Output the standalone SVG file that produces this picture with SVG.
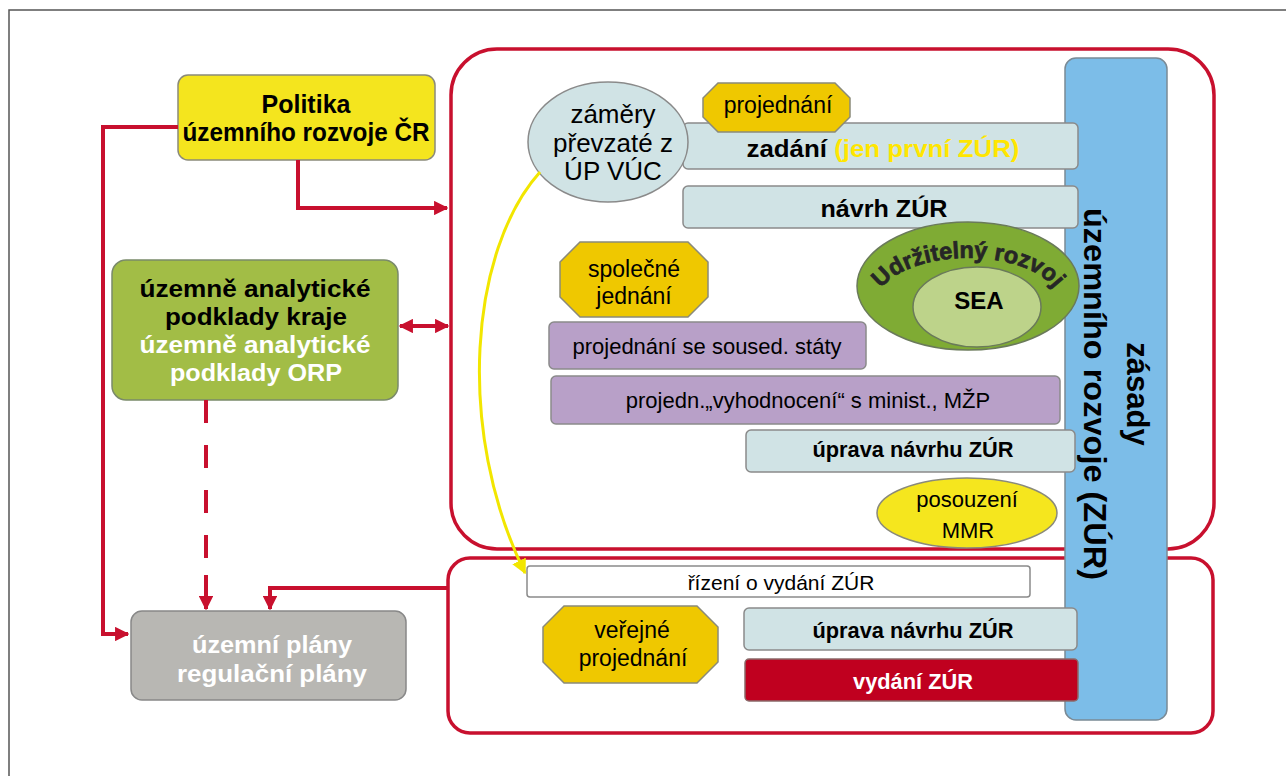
<svg xmlns="http://www.w3.org/2000/svg" width="1286" height="776" viewBox="0 0 1286 776">
<defs>
<style>
.t{font-family:"Liberation Sans",Arial,sans-serif;}
.b{font-weight:bold;}
.frame{fill:none;stroke:#c8102e;stroke-width:3.5;}
.bar{fill:#d0e3e5;stroke:#8a8a8a;stroke-width:1.5;}
.oct{fill:#efc800;stroke:#8a8a7a;stroke-width:1.5;}
.pur{fill:#b8a0c8;stroke:#8a8a8a;stroke-width:1.5;}
.con{fill:none;stroke:#c8102e;stroke-width:4;}
</style>
<marker id="ar2" viewBox="0 0 10 10" refX="9" refY="5" markerWidth="3.6" markerHeight="3.6" orient="auto-start-reverse" markerUnits="strokeWidth">
<path d="M0,0 L10,5 L0,10 z" fill="#c8102e"/>
</marker>
<marker id="ay" viewBox="0 0 10 10" refX="9" refY="5" markerWidth="5" markerHeight="5" orient="auto" markerUnits="strokeWidth">
<path d="M0,0 L10,5 L0,10 z" fill="#f2e600"/>
</marker>
<path id="arc" d="M 876,304 A 92,46 0 0 1 1060,304"/>
</defs>

<rect width="1286" height="776" fill="#ffffff"/>
<path d="M9,776 L9,10 L1286,10" fill="none" stroke="#555" stroke-width="1.5"/>

<!-- containers -->
<g id="stage-top">
<rect class="frame" x="451" y="49" width="763" height="500" rx="46"/>
</g>
<g id="stage-bottom">
<rect class="frame" x="448" y="558" width="765" height="175" rx="22"/>
</g>

<!-- blue bar ZÚR -->
<g id="zur">
<rect x="1065" y="58" width="102" height="662" rx="11" fill="#7cbde8" stroke="#7a8a95" stroke-width="1.5"/>
<text class="t b" transform="translate(1127,394) rotate(90)" text-anchor="middle" font-size="31" fill="#000">zásady</text>
<text class="t b" transform="translate(1084,394) rotate(90)" text-anchor="middle" font-size="31" fill="#000" textLength="372" lengthAdjust="spacingAndGlyphs">územního rozvoje (ZÚR)</text>
</g>

<!-- left nodes -->
<g id="politika">
<rect x="178" y="75" width="257" height="85" rx="10" fill="#f4e51e" stroke="#8a8a7a" stroke-width="1.5"/>
<text class="t b" x="306" y="113" text-anchor="middle" font-size="25">Politika</text>
<text class="t b" x="306" y="141" text-anchor="middle" font-size="25" textLength="247" lengthAdjust="spacingAndGlyphs">územního rozvoje ČR</text>
</g>

<g id="uap">
<rect x="112" y="260" width="286" height="140" rx="14" fill="#a2bd46" stroke="#7a8a6a" stroke-width="1.5"/>
<text class="t b" x="255" y="297" text-anchor="middle" font-size="24" textLength="231" lengthAdjust="spacingAndGlyphs">územně analytické</text>
<text class="t b" x="256" y="325" text-anchor="middle" font-size="24" textLength="182" lengthAdjust="spacingAndGlyphs">podklady kraje</text>
<text class="t b" x="255" y="353" text-anchor="middle" font-size="24" fill="#fff" textLength="231" lengthAdjust="spacingAndGlyphs">územně analytické</text>
<text class="t b" x="256" y="381" text-anchor="middle" font-size="24" fill="#fff" textLength="172" lengthAdjust="spacingAndGlyphs">podklady ORP</text>
</g>

<g id="up">
<rect x="131" y="611" width="275" height="89" rx="11" fill="#b8b7b3" stroke="#888" stroke-width="1.5"/>
<text class="t b" x="272" y="653" text-anchor="middle" font-size="24" fill="#fff" textLength="160" lengthAdjust="spacingAndGlyphs">územní plány</text>
<text class="t b" x="272" y="682" text-anchor="middle" font-size="24" fill="#fff" textLength="190" lengthAdjust="spacingAndGlyphs">regulační plány</text>
</g>

<!-- top stage nodes -->
<g id="zadani">
<rect class="bar" x="683" y="123" width="395" height="46" rx="5"/>
<text class="t b" x="883" y="157" text-anchor="middle" font-size="23" textLength="273" lengthAdjust="spacingAndGlyphs">zadání <tspan fill="#ffe600">(jen první ZÚR)</tspan></text>
</g>

<g id="zamery">
<ellipse cx="608" cy="142" rx="80" ry="60" fill="#d0e3e5" stroke="#8a8a8a" stroke-width="1.5"/>
<text class="t" x="613" y="123" text-anchor="middle" font-size="26">záměry</text>
<text class="t" x="613" y="152" text-anchor="middle" font-size="26">převzaté z</text>
<text class="t" x="613" y="180" text-anchor="middle" font-size="26">ÚP VÚC</text>
</g>

<g id="projednani">
<polygon class="oct" points="718,83 835,83 850,98 850,117 835,132 718,132 703,117 703,98"/>
<text class="t" x="778" y="113" text-anchor="middle" font-size="23">projednání</text>
</g>

<g id="navrh">
<rect class="bar" x="683" y="186" width="395" height="42" rx="5"/>
<text class="t b" x="884" y="217" text-anchor="middle" font-size="23" textLength="127" lengthAdjust="spacingAndGlyphs">návrh ZÚR</text>
</g>

<g id="udrzitelny">
<ellipse cx="968" cy="286" rx="111" ry="64" fill="#7fab34" stroke="#6a7a5a" stroke-width="1.5"/>
<ellipse cx="977" cy="307" rx="64" ry="40" fill="#bdd38a" stroke="#6a7a5a" stroke-width="1.5"/>
<text class="t b" font-size="23.5" fill="#262626" stroke="#262626" stroke-width="0.7"><textPath href="#arc" startOffset="50%" text-anchor="middle">Udržitelný rozvoj</textPath></text>
<text class="t b" x="979" y="309" text-anchor="middle" font-size="24">SEA</text>
</g>

<g id="spolecne">
<polygon class="oct" points="580,242 688,242 708,262 708,297 688,317 580,317 560,297 560,262"/>
<text class="t" x="634" y="277" text-anchor="middle" font-size="23">společné</text>
<text class="t" x="634" y="304" text-anchor="middle" font-size="23">jednání</text>
</g>

<g id="sousede">
<rect class="pur" x="549" y="322" width="317" height="47" rx="5"/>
<text class="t" x="707" y="354" text-anchor="middle" font-size="22">projednání se soused. státy</text>
</g>

<g id="vyhodnoceni">
<rect class="pur" x="551" y="376" width="509" height="48" rx="5"/>
<text class="t" x="808" y="408" text-anchor="middle" font-size="22">projedn.„vyhodnocení“ s minist., MŽP</text>
</g>

<g id="uprava1">
<rect class="bar" x="746" y="430" width="329" height="42" rx="5"/>
<text class="t b" x="913" y="457" text-anchor="middle" font-size="22" textLength="201" lengthAdjust="spacingAndGlyphs">úprava návrhu ZÚR</text>
</g>

<g id="posouzeni">
<ellipse cx="967" cy="513" rx="90" ry="35" fill="#f5e61e" stroke="#8a8a7a" stroke-width="1.5"/>
<text class="t" x="967" y="507" text-anchor="middle" font-size="22">posouzení</text>
<text class="t" x="968" y="538" text-anchor="middle" font-size="22">MMR</text>
</g>

<!-- bottom stage nodes -->
<g id="rizeni">
<rect x="527" y="566" width="503" height="31" rx="3" fill="#fff" stroke="#8a8a8a" stroke-width="1.5"/>
<text class="t" x="781" y="590" text-anchor="middle" font-size="21">řízení o vydání ZÚR</text>
</g>

<g id="verejne">
<polygon class="oct" points="564,606 697,606 718,627 718,662 697,683 564,683 543,662 543,627"/>
<text class="t" x="632" y="638" text-anchor="middle" font-size="23">veřejné</text>
<text class="t" x="633" y="666" text-anchor="middle" font-size="23">projednání</text>
</g>

<g id="uprava2">
<rect class="bar" x="744" y="608" width="333" height="42" rx="5"/>
<text class="t b" x="913" y="638" text-anchor="middle" font-size="22" textLength="201" lengthAdjust="spacingAndGlyphs">úprava návrhu ZÚR</text>
</g>

<g id="vydani">
<rect x="745" y="659" width="333" height="42" rx="4" fill="#c0001f" stroke="#8a6a6a" stroke-width="1.5"/>
<text class="t b" x="913" y="689" text-anchor="middle" font-size="22" fill="#fff" textLength="120" lengthAdjust="spacingAndGlyphs">vydání ZÚR</text>
</g>

<!-- connectors -->
<g id="connectors">
<path class="con" d="M178,127 L103,127 L103,634 L128,634" marker-end="url(#ar2)"/>
<path class="con" d="M298,160 L298,208 L447,208" marker-end="url(#ar2)"/>
<path class="con" d="M400,326 L448,326" marker-start="url(#ar2)" marker-end="url(#ar2)"/>
<path class="con" d="M206,400 L206,580" stroke-width="6" stroke-dasharray="23,22"/>
<path class="con" d="M206,575 L206,609" marker-end="url(#ar2)"/>
<path class="con" d="M447,588 L270,588 L270,609" marker-end="url(#ar2)"/>
<path d="M540,172 C 470,250 455,430 525,573" fill="none" stroke="#f2e600" stroke-width="3" marker-end="url(#ay)"/>
</g>
</svg>
